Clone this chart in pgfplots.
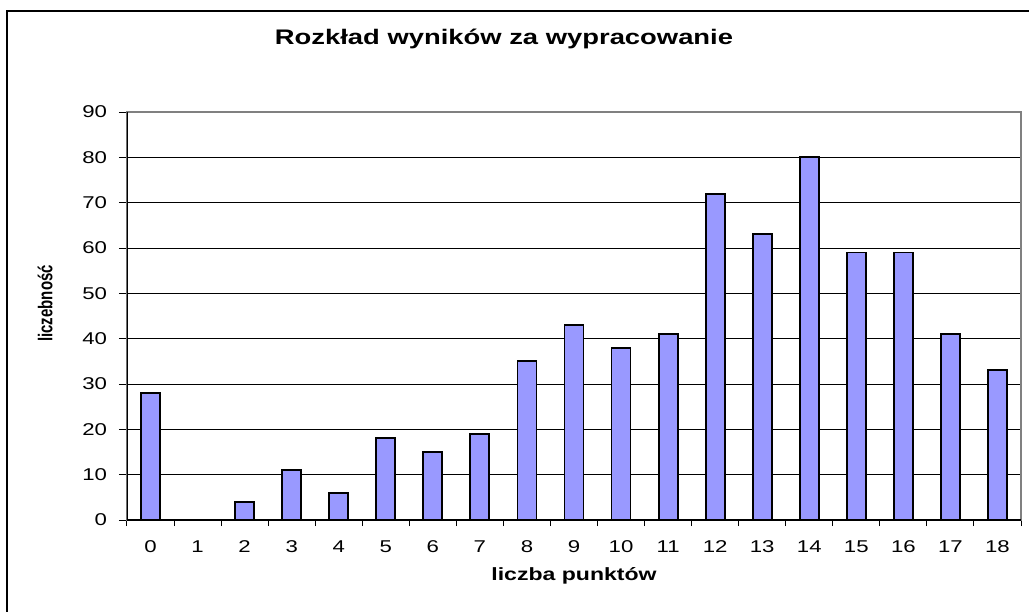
\documentclass[border=0pt]{standalone}
\usepackage{fontspec}
\setmainfont[FakeStretch=1.3]{Liberation Sans}
\newfontfamily\ylabfont[FakeStretch=0.75]{Liberation Sans}
\usepackage{pgfplots}
\pgfplotsset{compat=1.18}
\definecolor{barblue}{HTML}{9999FF}
\definecolor{plotframe}{HTML}{808080}

% liczba punktow / liczebnosc
\pgfplotstableread{
pts n
0 28
1 0
2 4
3 11
4 6
5 18
6 15
7 19
8 35
9 43
10 38
11 41
12 72
13 63
14 80
15 59
16 59
17 41
18 33
}\wyniki

\begin{document}
\begin{tikzpicture}
\useasboundingbox (0,0) rectangle (771.75pt,-458.25pt);
% chart area frame (only left and top edges are visible)
\draw[line width=1.5pt] (5.25pt,-470pt) -- (5.25pt,-8.25pt) -- (780pt,-8.25pt);
\begin{axis}[
  at={(95.25pt,-390pt)}, anchor=south west,
  scale only axis, width=670.5pt, height=306pt,
  ybar, bar width=0.404,
  xmin=-0.5, xmax=18.5, ymin=0, ymax=90,
  xtick={0,...,18}, minor xtick={-0.5,0.5,...,18.5},
  ytick={0,10,...,90},
  xtick pos=bottom, ytick pos=left,
  tick align=outside,
  every major x tick/.append style={draw=none},
  major tick length=6pt, minor tick length=4.5pt,
  tick style={black, line width=0.75pt},
  ymajorgrids, grid style={black, line width=0.75pt},
  axis line style={draw=plotframe, line width=1.5pt},
  /pgf/number format/assume math mode=true,
  tick label style={font=\fontsize{12.8}{14}\selectfont},
  yticklabel style={xshift=-5.5pt},
  xticklabel style={yshift=-6pt},
  title={Rozkład wyników za wypracowanie},
  title style={at={(axis description cs:0.4217,1.159)}, anchor=center,
    font=\bfseries\fontsize{15.8}{18}\selectfont},
  xlabel={liczba punktów},
  xlabel style={at={(axis description cs:0.5,0)}, anchor=center, yshift=-42pt,
    font=\bfseries\fontsize{13.3}{16}\selectfont},
  ylabel={liczebność},
  ylabel style={at={(axis description cs:-0.0917,0.531)}, anchor=center,
    font=\ylabfont\bfseries\fontsize{15}{16}\selectfont},
]
\addplot[fill=barblue, draw=black, line width=1.4pt] table[x=pts, y=n] {\wyniki};
\draw[black, line width=1.1pt] (-0.5,0) -- (18.5,0);
\draw[black, line width=1.1pt] (-0.5,0) -- (-0.5,90);
\end{axis}
\end{tikzpicture}
\end{document}
